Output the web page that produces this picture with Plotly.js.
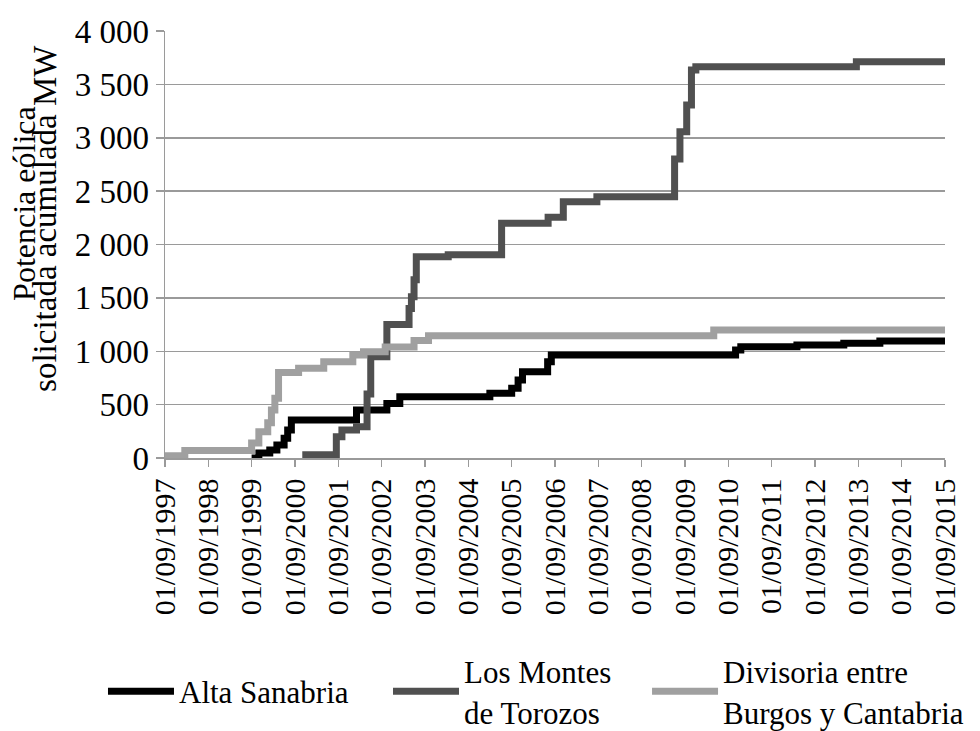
<!DOCTYPE html>
<html>
<head>
<meta charset="utf-8">
<script src="https://cdn.plot.ly/plotly-3.0.1.min.js"></script>
<style>html,body{margin:0;padding:0;background:#fff;}#chart{width:980px;height:731px;}</style>
</head>
<body>
<div id="chart"></div>
<script>
// Alta Sanabria
const altaDates = ["1999-09-01","1999-11-01","2000-02-01","2000-04-01","2000-06-01","2000-07-01","2000-08-01","2002-02-01","2002-10-15","2003-02-01","2005-03-01","2005-09-01","2005-10-25","2005-12-01","2006-07-01","2006-08-01","2010-11-01","2010-12-15","2012-04-01","2013-05-01","2014-03-01","2015-09-01"];
const altaValues = [0,47,75,122,184,262,356,450,510,574,606,653,731,808,902,965,1012,1043,1059,1074,1095,1095];

// Los Montes de Torozos
const montesDates = ["2000-11-01","2001-08-15","2001-10-01","2002-02-01","2002-05-01","2002-06-01","2002-10-15","2003-04-20","2003-05-10","2003-06-01","2003-06-20","2004-03-15","2005-06-08","2006-07-05","2006-11-10","2007-08-20","2009-06-05","2009-07-20","2009-09-15","2009-10-25","2009-12-01","2013-08-15","2015-09-01"];
const montesValues = [30,200,262,293,600,949,1250,1400,1510,1670,1886,1905,2199,2255,2401,2448,2800,3057,3307,3635,3666,3712,3712];

// Divisoria entre Burgos y Cantabria
const divisoriaDates = ["1997-09-01","1998-02-15","1999-09-01","1999-11-01","2000-01-15","2000-02-15","2000-03-15","2000-04-15","2000-10-01","2001-05-01","2002-01-01","2002-04-01","2002-10-01","2003-06-01","2003-10-01","2010-05-01","2015-09-01"];
const divisoriaValues = [20,70,140,246,330,450,560,800,840,902,965,996,1040,1100,1146,1199,1199];

const tickDates = ["1997-09-01","1998-09-01","1999-09-01","2000-09-01","2001-09-01","2002-09-01","2003-09-01","2004-09-01","2005-09-01","2006-09-01","2007-09-01","2008-09-01","2009-09-01","2010-09-01","2011-09-01","2012-09-01","2013-09-01","2014-09-01","2015-09-01"];
const tickLabels = ["01/09/1997","01/09/1998","01/09/1999","01/09/2000","01/09/2001","01/09/2002","01/09/2003","01/09/2004","01/09/2005","01/09/2006","01/09/2007","01/09/2008","01/09/2009","01/09/2010","01/09/2011","01/09/2012","01/09/2013","01/09/2014","01/09/2015"];

const seriesNames = ["Alta Sanabria","Los Montes<br>de Torozos","Divisoria entre<br>Burgos y Cantabria"];
const yTitleLines = ["Potencia eólica","solicitada acumulada MW"];

const FONT = "'Liberation Serif', 'DejaVu Serif', serif";

const mk = (x, y, name, color, lg) => ({
  x: x, y: y, name: name, type: "scatter", mode: "lines",
  line: {shape: "hv", color: color, width: 7},
  legend: lg, cliponaxis: false, hoverinfo: "skip"
});

const data = [
  mk(altaDates, altaValues, seriesNames[0], "#000000", "legend"),
  mk(montesDates, montesValues, seriesNames[1], "#505050", "legend2"),
  mk(divisoriaDates, divisoriaValues, seriesNames[2], "#a0a0a0", "legend3")
];

const legendBase = (x) => ({
  orientation: "h", xref: "paper", yref: "paper",
  x: x, xanchor: "left", y: -0.547, yanchor: "middle", valign: "middle",
  bgcolor: "rgba(0,0,0,0)",
  font: {family: FONT, size: 31, color: "#000"}, itemwidth: 66
});

const layout = {
  width: 980, height: 731,
  margin: {l: 165, r: 35, t: 31, b: 273, pad: 0, autoexpand: false},
  paper_bgcolor: "#ffffff", plot_bgcolor: "#ffffff",
  font: {family: FONT, color: "#000000", size: 32},
  separators: ". ",
  showlegend: true,
  legend: legendBase(-0.0795),
  legend2: legendBase(0.2859),
  legend3: legendBase(0.618),
  xaxis: {
    type: "date",
    range: ["1997-09-01", "2015-09-01"],
    tickmode: "array", tickvals: tickDates, ticktext: tickLabels,
    tickangle: -90,
    tickfont: {family: FONT, size: 30, color: "#000"},
    ticks: "outside", ticklen: 7, tickwidth: 1.5, tickcolor: "#9a9a9a",
    showline: true, linecolor: "#9a9a9a", linewidth: 1.5,
    showgrid: false, zeroline: false, fixedrange: true, automargin: false
  },
  yaxis: {
    range: [0, 4000], dtick: 500, tick0: 0,
    separatethousands: true,
    tickfont: {family: FONT, size: 33, color: "#000"},
    ticks: "outside", ticklen: 8, tickwidth: 1.5, tickcolor: "#9a9a9a",
    showline: true, linecolor: "#9a9a9a", linewidth: 1.5,
    showgrid: true, gridcolor: "#9a9a9a", gridwidth: 1.5,
    zeroline: false, fixedrange: true, automargin: false
  },
  annotations: [
    {text: yTitleLines[0], xref: "paper", yref: "paper", x: -0.181, y: 0.597, xanchor: "center", yanchor: "middle", textangle: -90, showarrow: false, font: {family: FONT, size: 32, color: "#000"}},
    {text: yTitleLines[1], xref: "paper", yref: "paper", x: -0.154, y: 0.562, xanchor: "center", yanchor: "middle", textangle: -90, showarrow: false, font: {family: FONT, size: 33, color: "#000"}}
  ]
};

Plotly.newPlot("chart", data, layout, {displayModeBar: false, staticPlot: true});
</script>
</body>
</html>
